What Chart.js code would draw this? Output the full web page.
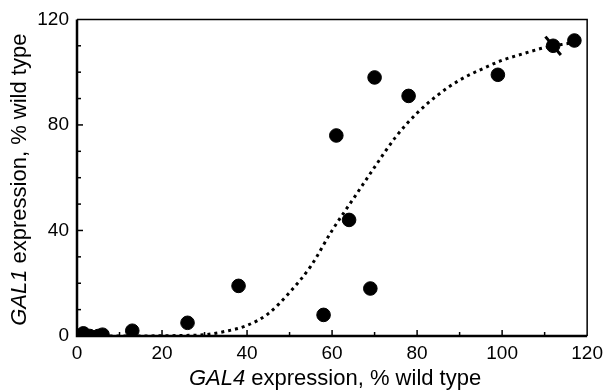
<!DOCTYPE html>
<html>
<head>
<meta charset="utf-8">
<script src="https://cdn.jsdelivr.net/npm/chart.js@4/dist/chart.umd.min.js"></script>
<style>
  html, body { margin: 0; padding: 0; background: #fff; }
  #wrap { width: 609px; height: 390px; }
</style>
</head>
<body>
<div id="wrap"><canvas id="myChart" width="609" height="390"></canvas></div>
<script>
// measured points
const gal4 = [0.5, 1.5, 3, 5, 6, 13, 26, 38, 58, 61, 64, 69, 70, 78, 99, 112, 117];
const gal1 = [0, 1, 0, 0, 0.5, 2, 5, 19, 8, 76, 44, 18, 98, 91, 99, 110, 112];

// dotted fit curve
const fitX = [6, 10, 15, 20, 25, 30, 35, 40, 45, 50, 55, 60, 65, 70, 75, 80, 85, 90, 95, 100, 105, 110, 116];
const fitY = [0, 0, 0, 0.1, 0.2, 0.5, 1.8, 4, 8.5, 16.5, 26.5, 40, 52, 64, 75.5, 84.5, 91.5, 97, 101, 104.5, 107, 109.3, 111];

// the slashed point near the top right
const slashX = [112];
const slashY = [110];

const xTicks = [0, 20, 40, 60, 80, 100, 120];
const yTicks = [0, 40, 80, 120];

const font = "Liberation Sans, Arial, Helvetica, sans-serif";

const toXY = (xs, ys) => xs.map((x, i) => ({ x: x, y: ys[i] }));

// draws a title with the gene name in italics
const mixedText = (ctx, parts, x, y) => {
  let w = 0;
  for (let p of parts) { ctx.font = p[0]; w += ctx.measureText(p[1]).width; }
  let cx = x - w / 2;
  for (let p of parts) {
    ctx.font = p[0];
    ctx.fillText(p[1], cx, y);
    cx += ctx.measureText(p[1]).width;
  }
};

// inward tick marks, frame and the axis titles
const extras = {
  id: "extras",
  afterDraw(chart) {
    const ctx = chart.ctx;
    const xs = chart.scales.x;
    const ys = chart.scales.y;
    const a = chart.chartArea;
    ctx.save();
    ctx.strokeStyle = "#000";
    ctx.lineWidth = 1.5;
    for (let v = 10; v < 120; v += 10) {
      const px = xs.getPixelForValue(v);
      const len = v % 20 == 0 ? 6 : 4;
      ctx.beginPath();
      ctx.moveTo(px, a.bottom);
      ctx.lineTo(px, a.bottom - len);
      ctx.stroke();
    }
    for (let v = 10; v < 120; v += 10) {
      const py = ys.getPixelForValue(v);
      const len = v % 40 == 0 ? 6 : 4;
      ctx.beginPath();
      ctx.moveTo(a.left, py);
      ctx.lineTo(a.left + len, py);
      ctx.stroke();
    }
    ctx.lineWidth = 1.5;
    ctx.beginPath();
    ctx.moveTo(a.left, a.top);
    ctx.lineTo(a.right, a.top);
    ctx.lineTo(a.right, a.bottom);
    ctx.stroke();
    ctx.lineWidth = 2.5;
    ctx.beginPath();
    ctx.moveTo(a.left, a.top);
    ctx.lineTo(a.left, a.bottom);
    ctx.lineTo(a.right, a.bottom);
    ctx.stroke();

    ctx.fillStyle = "#000";
    ctx.textAlign = "left";
    ctx.textBaseline = "alphabetic";
    mixedText(ctx, [["italic 22px " + font, "GAL4"], ["22px " + font, " expression, % wild type"]],
      (a.left + a.right) / 2 + 3, 385);
    ctx.translate(26, (a.top + a.bottom) / 2 + 2);
    ctx.rotate(-Math.PI / 2);
    mixedText(ctx, [["italic 22px " + font, "GAL1"], ["22px " + font, " expression, % wild type"]], 0, 0);
    ctx.restore();
  }
};

new Chart(document.getElementById("myChart").getContext("2d"), {
  type: "scatter",
  data: {
    datasets: [
      {
        label: "GAL1",
        data: toXY(gal4, gal1),
        backgroundColor: "#000",
        borderColor: "#000",
        pointRadius: 6.8,
        pointHoverRadius: 6.8,
        order: 0,
      },
      {
        label: "slash",
        data: toXY(slashX, slashY),
        pointStyle: "line",
        rotation: 50,
        pointRadius: 12,
        borderColor: "#000",
        borderWidth: 3,
        order: 1,
      },
      {
        label: "fit",
        type: "line",
        data: toXY(fitX, fitY),
        borderColor: "#000",
        borderWidth: 3,
        borderDash: [3, 4],
        pointRadius: 0,
        cubicInterpolationMode: "monotone",
        fill: false,
        order: 2,
      },
    ],
  },
  options: {
    responsive: false,
    animation: false,
    layout: { padding: { top: 18, right: 21, left: 0, bottom: 0 } },
    plugins: {
      legend: { display: false },
      tooltip: { enabled: false },
    },
    scales: {
      x: {
        type: "linear",
        min: 0,
        max: 120,
        afterBuildTicks: (s) => { s.ticks = xTicks.map((v) => ({ value: v })); },
        afterFit: (s) => { s.height = 54; },
        grid: { display: false, drawTicks: false },
        border: { display: false },
        ticks: { color: "#000", font: { family: font, size: 19 }, padding: 6, maxRotation: 0 },
      },
      y: {
        type: "linear",
        min: 0,
        max: 120,
        afterBuildTicks: (s) => { s.ticks = yTicks.map((v) => ({ value: v })); },
        afterFit: (s) => { s.width = 77; },
        grid: { display: false, drawTicks: false },
        border: { display: false },
        ticks: { color: "#000", font: { family: font, size: 19 }, padding: 8 },
      },
    },
  },
  plugins: [extras],
});
</script>
</body>
</html>
